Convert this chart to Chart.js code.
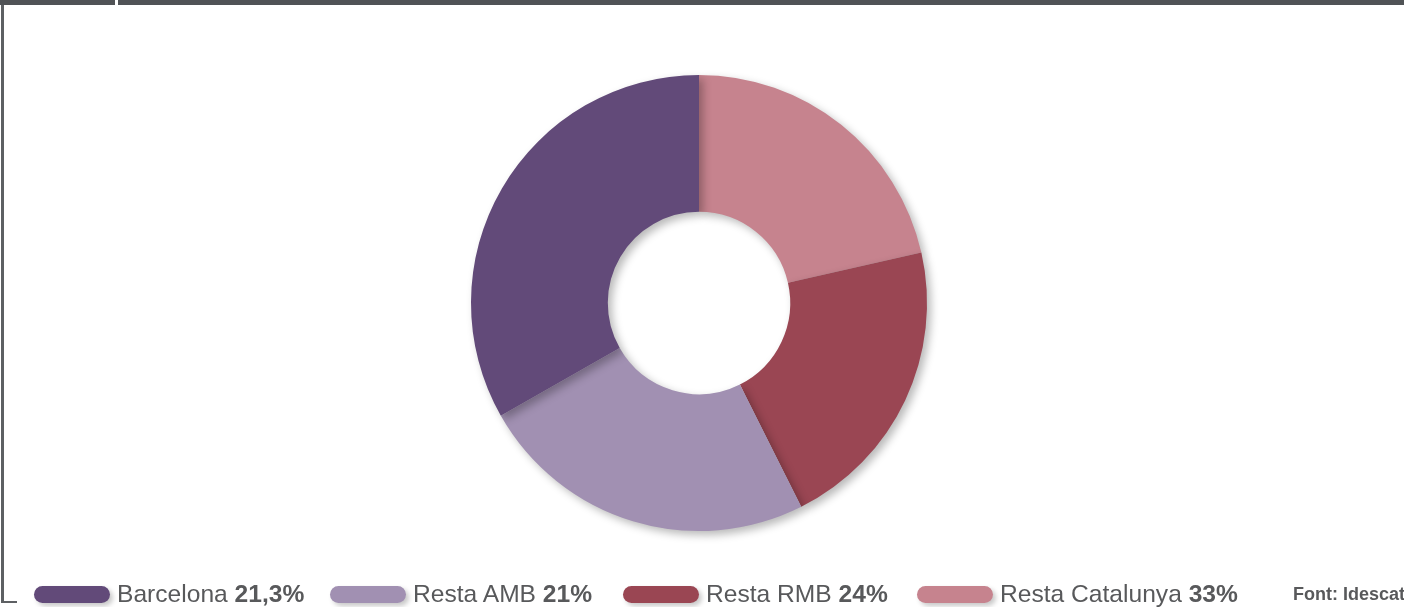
<!DOCTYPE html>
<html><head><meta charset="utf-8">
<script src="https://cdn.jsdelivr.net/npm/chart.js@4"></script>
<style>
html,body{margin:0;padding:0;background:#fff;width:1404px;height:607px;overflow:hidden;font-family:"Liberation Sans",Arial,Helvetica,sans-serif;}
#wrap{position:relative;width:1404px;height:607px;}
canvas{position:absolute;left:0;top:0;}
.bar1{position:absolute;left:0;top:0;width:115px;height:5px;background:#505356;}
.bar2{position:absolute;left:118px;top:0;width:1286px;height:5px;background:#505356;}
.vline{position:absolute;left:1px;top:5px;width:3px;height:598px;background:#5d6063;}
.hline{position:absolute;left:1px;top:601px;width:16px;height:2px;background:#5d6063;}
#legend{position:absolute;left:0;top:0;width:1404px;height:607px;pointer-events:none;}
.item{position:absolute;top:581px;height:26px;display:flex;align-items:center;white-space:nowrap;color:#58595b;font-size:24.6px;}
.pill{width:76px;height:17px;border-radius:9px;margin-right:7px;box-shadow:3px 3px 5px rgba(0,0,0,0.22);}
.item b{font-weight:bold;}
.src{position:absolute;left:1293px;top:584px;font-size:18px;font-weight:bold;color:#58595b;white-space:nowrap;}
</style></head>
<body>
<div id="wrap">
<canvas id="c" width="1404" height="607"></canvas>
<div class="bar1"></div><div class="bar2"></div><div class="vline"></div><div class="hline"></div>
<div id="legend"></div>
<div class="src">Font: Idescat</div>
</div>
<script>
// Legend categories and values (as labelled)
const categories = ['Barcelona', 'Resta AMB', 'Resta RMB', 'Resta Catalunya'];
const valueLabels = ['21,3%', '21%', '24%', '33%'];
const legendColors = ['#624a79', '#a190b2', '#9a4653', '#c6838e'];
// Slice values as drawn clockwise from 12 o'clock
const sliceValues = [21.3, 21, 24, 33];
const sliceColors = ['#c6838e', '#9a4653', '#a190b2', '#624a79'];
const legendX = [34, 330, 623, 917];

const legend = document.getElementById('legend');
categories.forEach((c, i) => {
  const d = document.createElement('div');
  d.className = 'item';
  d.style.left = legendX[i] + 'px';
  d.innerHTML = '<span class="pill" style="background:' + legendColors[i] + '"></span>' + c + '&nbsp;<b>' + valueLabels[i] + '</b>';
  legend.appendChild(d);
});

const shadowPlugin = {
  id: 'shadow',
  beforeDatasetDraw(chart) {
    const ctx = chart.ctx;
    ctx.save();
    ctx.shadowColor = 'rgba(0,0,0,0.28)';
    ctx.shadowBlur = 9;
    ctx.shadowOffsetX = 4;
    ctx.shadowOffsetY = 4;
  },
  afterDatasetDraw(chart) {
    chart.ctx.restore();
  }
};

new Chart(document.getElementById('c'), {
  type: 'doughnut',
  data: {
    labels: categories,
    datasets: [{
      data: sliceValues,
      backgroundColor: sliceColors,
      borderWidth: 0,
      hoverOffset: 0
    }]
  },
  options: {
    responsive: false,
    animation: false,
    cutout: '40%',
    layout: { padding: { top: 75, bottom: 76, left: 0, right: 6 } },
    plugins: { legend: { display: false }, tooltip: { enabled: false } },
    events: []
  },
  plugins: [shadowPlugin]
});
</script>
</body></html>
